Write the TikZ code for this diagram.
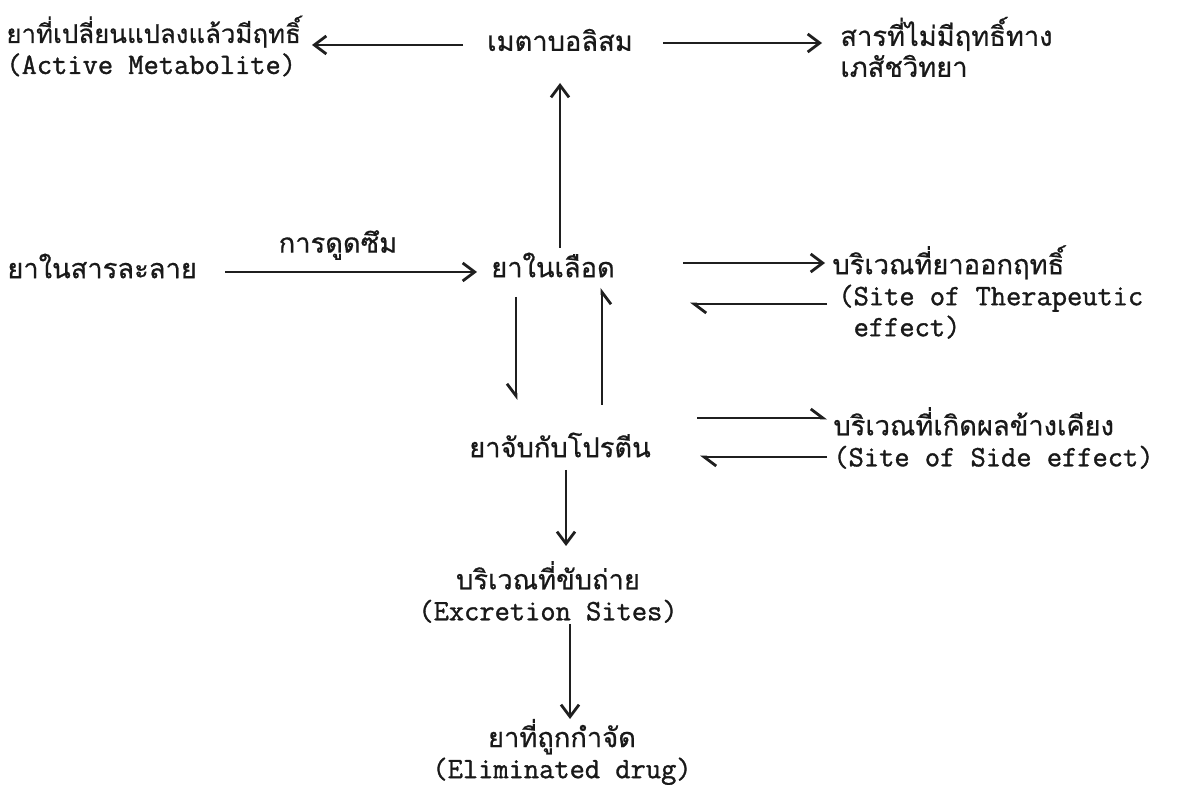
\documentclass[tikz,border=0pt]{standalone}
\usepackage{fontspec}
\setmainfont{Liberation Serif}
\setmonofont{Latin Modern Mono}[FakeBold=1.2]
\newfontfamily\thai[Script=Thai,Scale=1.05,FakeBold=0.6]{Loma}
\usetikzlibrary{arrows.meta}
\begin{document}
\begin{tikzpicture}[x=0.5pt,y=-0.5pt,
  lbl/.style={inner sep=0pt, text=black!90, font=\fontsize{14.8}{15.5}\selectfont},
  ln/.style={line width=1.4pt, draw=black!88},
  full/.style={ln, -{Straight Barb[length=6pt,width=9pt,line width=1.4pt]}},
  hl/.style={ln, -{Straight Barb[harpoon,length=6pt,width=9pt,line width=1.4pt]}},
  hr/.style={ln, -{Straight Barb[harpoon,swap,length=6pt,width=9pt,line width=1.4pt]}}
]
\useasboundingbox (0,0) rectangle (1194,785);
\fill[white] (0,0) rectangle (1194,785);

\node[lbl, anchor=west, align=left] (am) at (6,46)
  {{\thai\fontsize{12.3}{15.5}\selectfont ยาที่เปลี่ยนแปลงแล้วมีฤทธิ์}\\\texttt{(Active Metabolite)}};
\node[lbl, font=\thai\fontsize{13}{15}\selectfont] (meta) at (560,40) {เมตาบอลิสม};
\node[lbl, anchor=west, align=left, font=\thai\fontsize{13}{15.5}\selectfont] (inact) at (840,47)
  {สารที่ไม่มีฤทธิ์ทาง\\เภสัชวิทยา};
\node[lbl, anchor=west, font=\thai\fontsize{13}{15}\selectfont] (sol) at (7,266) {ยาในสารละลาย};
\node[lbl, font=\thai\fontsize{13}{15}\selectfont] (absorb) at (338,245) {การดูดซึม};
\node[lbl, font=\thai\fontsize{13}{15}\selectfont] (blood) at (553,265) {ยาในเลือด};
\node[lbl, anchor=west, align=left] (ther) at (832,292)
  {{\thai\fontsize{13}{15.5}\selectfont บริเวณที่ยาออกฤทธิ์}\\\hspace*{3pt}\texttt{(Site of Therapeutic}\\\hspace*{3pt}\texttt{\ effect)}};
\node[lbl, font=\thai\fontsize{13}{15}\selectfont] (prot) at (560,445) {ยาจับกับโปรตีน};
\node[lbl, anchor=west, align=left] (side) at (833,438)
  {{\thai\fontsize{13}{15.5}\selectfont บริเวณที่เกิดผลข้างเคียง}\\\texttt{(Site of Side effect)}};
\node[lbl, align=center] (excr) at (548,592)
  {{\thai\fontsize{13}{15.5}\selectfont บริเวณที่ขับถ่าย}\\\texttt{(Excretion Sites)}};
\node[lbl, align=center] (elim) at (562,752)
  {{\thai\fontsize{13}{15.5}\selectfont ยาที่ถูกกำจัด}\\\texttt{(Eliminated drug)}};

% connectors
\draw[full] ([shift={(7,-17)}]blood.center) -- ([shift={(0,43)}]meta.center);
\draw[full] ([shift={(-97,5)}]meta.center) -- ([shift={(306,-1)}]am.west);
\draw[full] ([shift={(103,3)}]meta.center) -- ([shift={(-18,-4)}]inact.west);
\draw[full] ([shift={(218,6)}]sol.west) -- ([shift={(-76,7)}]blood.center);
\draw[full] ([shift={(130,-2)}]blood.center) -- ([shift={(-7,-29)}]ther.west);
\draw[hl] ([shift={(-5,12)}]ther.west) -- ([shift={(137,39)}]blood.center);
\draw[hr] ([shift={(-37,32)}]blood.center) -- ([shift={(-44,-45)}]prot.center);
\draw[hr] ([shift={(42,-40)}]prot.center) -- ([shift={(49,23)}]blood.center);
\draw[hl] ([shift={(137,-27)}]prot.center) -- ([shift={(-6,-20)}]side.west);
\draw[hl] ([shift={(-6,19)}]side.west) -- ([shift={(140,12)}]prot.center);
\draw[full] ([shift={(6,25)}]prot.center) -- ([shift={(18,-46)}]excr.center);
\draw[full] ([shift={(22,32)}]excr.center) -- ([shift={(8,-33)}]elim.center);
\end{tikzpicture}
\end{document}
